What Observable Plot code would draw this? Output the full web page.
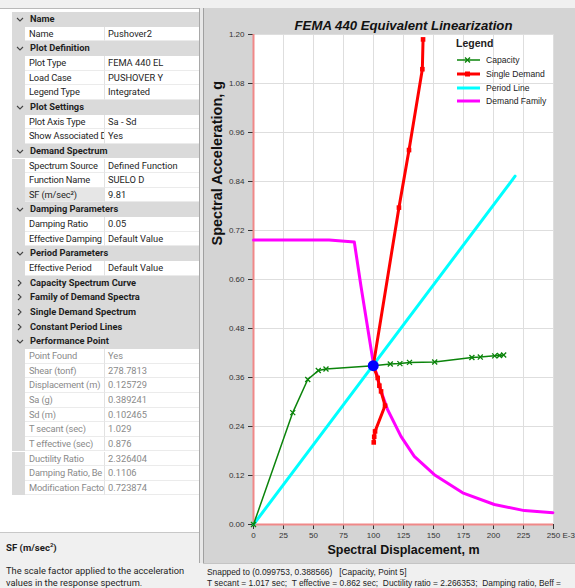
<!DOCTYPE html>
<html><head><meta charset="utf-8">
<script src="https://cdn.jsdelivr.net/npm/d3@7"></script>
<script src="https://cdn.jsdelivr.net/npm/@observablehq/plot@0.6"></script>
<style>
body{margin:0;width:575px;height:588px;overflow:hidden;background:#f0f0f0;position:relative;font-family:Roboto,"Liberation Sans",sans-serif;}
#left{position:absolute;left:0;top:8px;width:200px;height:580px;background:#fff;border-top:1px solid #b9b9b9;box-sizing:border-box;}
.row{position:absolute;left:12px;width:188px;height:14.65px;font-size:9.3px;line-height:14.65px;color:#1e1e1e;white-space:nowrap;overflow:hidden;}
.row.h{background:#dadada;font-weight:bold;}
.row .gut{position:absolute;left:0;top:0;width:13px;height:100%;background:#dadada;}
.row .nm{position:absolute;left:13px;top:0;width:80px;height:100%;padding-left:4px;box-sizing:border-box;overflow:hidden;border-bottom:1px solid #ebebeb;border-right:1px solid #e2e2e2;letter-spacing:-0.15px;}
.row .vl{position:absolute;left:93px;top:0;width:95px;height:100%;padding-left:3px;box-sizing:border-box;border-bottom:1px solid #ebebeb;}
.row.g{color:#8a8a8a;}
.row .ht{position:absolute;left:18px;}
.row svg{position:absolute;left:4px;top:4px;}
#desc{position:absolute;left:0;top:532px;width:200px;height:56px;background:#f0f0f0;border-top:1px solid #c8c8c8;font-size:9.3px;color:#1e1e1e;}
#right{position:absolute;left:203px;top:8px;width:372px;height:555px;background:#d4d4d4;border-left:1px solid #a0a0a0;box-sizing:border-box;}
#vsep{position:absolute;left:199px;top:8px;width:3px;height:555px;background:#e8e8e8;border-left:1px solid #a8a8a8;}
#chart{position:absolute;left:203px;top:8px;}
#status{position:absolute;left:203px;top:563px;width:372px;height:25px;background:#f0f0f0;border-top:1px solid #c4c4c4;font-family:"Liberation Sans",sans-serif;font-size:8.4px;color:#222;}
#legend{position:absolute;left:452px;top:34px;font-family:"Liberation Sans",sans-serif;color:#222;}
.li{position:absolute;left:4px;height:12px;font-size:8.6px;white-space:nowrap;}
.li svg{position:absolute;left:0;top:0;}
.li span{position:absolute;left:30px;top:0;line-height:12px;}
</style></head><body>
<div id="left"></div>
<div id="desc"></div>
<div id="vsep"></div>
<div id="right"></div>
<div id="chart"></div>
<div id="legend"></div>
<div id="status"></div>
<script>
// ---------- property grid ----------
const gridKinds = ["h","p","h","p","p","p","h","p","p","h","p","p","s","h","p","p","h","p","c","c","c","c","h","g","g","g","g","g","g","g","g","g","g"];
const gridNames = ["Name","Name","Plot Definition","Plot Type","Load Case","Legend Type","Plot Settings","Plot Axis Type","Show Associated D","Demand Spectrum","Spectrum Source","Function Name","SF (m/sec²)","Damping Parameters","Damping Ratio","Effective Damping","Period Parameters","Effective Period","Capacity Spectrum Curve","Family of Demand Spectra","Single Demand Spectrum","Constant Period Lines","Performance Point","Point Found","Shear (tonf)","Displacement (m)","Sa (g)","Sd (m)","T secant (sec)","T effective (sec)","Ductility Ratio","Damping Ratio, Be","Modification Facto"];
const gridValues = ["","Pushover2","","FEMA 440 EL","PUSHOVER Y","Integrated","","Sa - Sd","Yes","","Defined Function","SUELO D","9.81","","0.05","Default Value","","Default Value","","","","","","Yes","278.7813","0.125729","0.389241","0.102465","1.029","0.876","2.326404","0.1106","0.723874"];
const descTitle = "SF (m/sec²)";
const descLines = ["The scale factor applied to the acceleration","values in the response spectrum."];

// ---------- chart data ----------
const capacityX = [0, 32.7, 45.2, 54, 60.4, 99.8, 114, 122, 130, 151, 182, 189, 201, 205, 208.5];
const capacityY = [0, 0.274, 0.355, 0.377, 0.381, 0.389, 0.393, 0.394, 0.397, 0.398, 0.409, 0.410, 0.413, 0.414, 0.415];
const singleX = [141.3, 140.7, 129.6, 121.2, 99.8, 103.5, 104.9, 106.3, 109.6, 101.3, 100.6, 100.2];
const singleY = [1.188, 1.115, 0.917, 0.776, 0.389, 0.359, 0.340, 0.326, 0.291, 0.228, 0.215, 0.201];
const periodX = [0, 218];
const periodY = [0, 0.853];
const familyX = [0, 63, 84, 89.6, 100.2, 102.9, 104.9, 111.8, 122.9, 134, 150.7, 174.3, 200.7, 225.7, 249.5];
const familyY = [0.697, 0.697, 0.692, 0.583, 0.389, 0.367, 0.338, 0.281, 0.216, 0.167, 0.122, 0.0775, 0.049, 0.034, 0.029];
const perfX = [99.8];
const perfY = [0.389];
const xTicks = [0, 25, 50, 75, 100, 125, 150, 175, 200, 225, 250];
const yTicks = [0, 0.12, 0.24, 0.36, 0.48, 0.60, 0.72, 0.84, 0.96, 1.08, 1.20];
const legendNames = ["Capacity", "Single Demand", "Period Line", "Demand Family"];
const legendColors = ["#0b840b", "#ff0000", "#00ffff", "#ff00ff"];
const titleText = "FEMA 440 Equivalent Linearization";
const xLabel = "Spectral Displacement, m";
const yLabel = "Spectral Acceleration, g";
const xUnit = "E-3";
const statusLines = ["Snapped to (0.099753, 0.388566)   [Capacity, Point 5]", "T secant = 1.017 sec;  T effective = 0.862 sec;  Ductility ratio = 2.266353;  Damping ratio, Beff ="];

// build grid
const left = document.getElementById("left");
const chevDown = '<svg width="8" height="6"><polyline points="1,1 4,4 7,1" fill="none" stroke="#444" stroke-width="1.1"/></svg>';
const chevRight = '<svg width="8" height="8"><polyline points="2,0 5,3 2,6" fill="none" stroke="#444" stroke-width="1.1"/></svg>';
gridKinds.forEach((k, i) => {
  const d = document.createElement("div");
  d.className = "row " + (k === "h" || k === "c" ? "h" : (k === "g" ? "g" : ""));
  d.style.top = (3 + i * 14.65) + "px";
  if (k === "h" || k === "c") {
    d.innerHTML = (k === "h" ? chevDown.replace('<svg', '<svg style="top:5px"') : chevRight) + '<span class="ht">' + gridNames[i] + '</span>';
  } else {
    const sel = k === "s" ? ' style="background:#e6e6e6"' : '';
    d.innerHTML = '<div class="gut"></div><div class="nm"' + sel + '>' + gridNames[i] + '</div><div class="vl">' + gridValues[i] + '</div>';
  }
  left.appendChild(d);
});
const desc = document.getElementById("desc");
desc.innerHTML = '<div style="position:absolute;left:6px;top:8px;font-weight:bold;font-size:9.6px">' + descTitle.replace("²","<sup style=\"font-size:6px\">2</sup>") + '</div>' +
  descLines.map((t, i) => '<div style="position:absolute;left:6px;top:' + (32 + i * 12) + 'px">' + t + '</div>').join("");

// chart
const cap = capacityX.map((x, i) => ({x, y: capacityY[i]}));
const single = singleX.map((x, i) => ({x, y: singleY[i]}));
const period = periodX.map((x, i) => ({x, y: periodY[i]}));
const family = familyX.map((x, i) => ({x, y: familyY[i]}));
const perf = perfX.map((x, i) => ({x, y: perfY[i]}));

const chart = Plot.plot({
  width: 372, height: 555,
  marginLeft: 50, marginRight: 22, marginTop: 26, marginBottom: 39,
  style: {background: "transparent", fontFamily: "'Liberation Sans', Arial, sans-serif", fontSize: "8px", color: "#333"},
  x: {domain: [0, 250], label: null},
  y: {domain: [0, 1.2], label: null},
  marks: [
    Plot.frame({fill: "white", stroke: null}),
    Plot.gridX(xTicks, {stroke: "#dedede", strokeOpacity: 1}),
    Plot.gridY(yTicks, {stroke: "#dedede", strokeOpacity: 1}),
    Plot.axisX(xTicks, {tickSize: 5, tickPadding: 3, tickFormat: d => String(d), label: null, stroke: "#333", fill: "#333"}),
    Plot.axisY(yTicks, {tickSize: 5, tickPadding: 4, tickFormat: d => d.toFixed(2), label: null, stroke: "#333", fill: "#333"}),
    Plot.ruleX([0], {stroke: "#f08888", strokeWidth: 2}),
    Plot.ruleY([0], {stroke: "#f08888", strokeWidth: 2}),
    Plot.line(period, {x: "x", y: "y", stroke: legendColors[2], strokeWidth: 3}),
    Plot.line(family, {x: "x", y: "y", stroke: legendColors[3], strokeWidth: 3}),
    Plot.line(single, {x: "x", y: "y", stroke: legendColors[1], strokeWidth: 3}),
    Plot.dot(single, {x: "x", y: "y", symbol: "square", r: 2.6, fill: legendColors[1]}),
    Plot.line(cap, {x: "x", y: "y", stroke: legendColors[0], strokeWidth: 1.5}),
    Plot.dot(cap, {x: "x", y: "y", symbol: "times", r: 2.4, stroke: legendColors[0], strokeWidth: 1.3}),
    Plot.dot(perf, {x: "x", y: "y", r: 5.5, fill: "#0000ff"}),
    Plot.text([titleText], {frameAnchor: "top", dy: -14, fontSize: 13.2, fontWeight: "bold", fontStyle: "italic", fill: "#111"}),
    Plot.text([xLabel], {frameAnchor: "bottom", dy: 29, fontSize: 12.5, fontWeight: "bold", fill: "#111"}),
    Plot.text([yLabel], {frameAnchor: "left", dx: -36, dy: -34, rotate: -90, fontSize: 14.5, fontWeight: "bold", fill: "#111"}),
    Plot.text([xUnit], {frameAnchor: "bottom-right", dx: 9, dy: 13, textAnchor: "start", fontSize: 8, fill: "#333"})
  ]
});
document.getElementById("chart").appendChild(chart);

// legend
const lg = document.getElementById("legend");
let lh = '<div style="position:absolute;left:4px;top:3px;font-size:10.5px;font-weight:bold;white-space:nowrap">Legend</div>';
legendNames.forEach((n, i) => {
  const c = legendColors[i];
  let sym = '';
  let sw = i === 0 ? 1.5 : 3;
  if (i === 0) sym = '<path d="M9,3.5 L14,8.5 M14,3.5 L9,8.5" stroke="' + c + '" stroke-width="1.4"/>';
  if (i === 1) sym = '<rect x="9" y="3.5" width="5" height="5" fill="' + c + '"/>';
  lh += '<div class="li" style="top:' + (20 + i * 13.8) + 'px"><svg width="26" height="12"><line x1="1" y1="6" x2="24" y2="6" stroke="' + c + '" stroke-width="' + sw + '"/>' + sym + '</svg><span>' + n + '</span></div>';
});
lg.innerHTML = lh;

// status
document.getElementById("status").innerHTML = statusLines.map((t, i) => '<div style="position:absolute;left:4px;top:' + (3 + i * 10.5) + 'px;white-space:pre">' + t + '</div>').join("");
</script>
</body></html>
